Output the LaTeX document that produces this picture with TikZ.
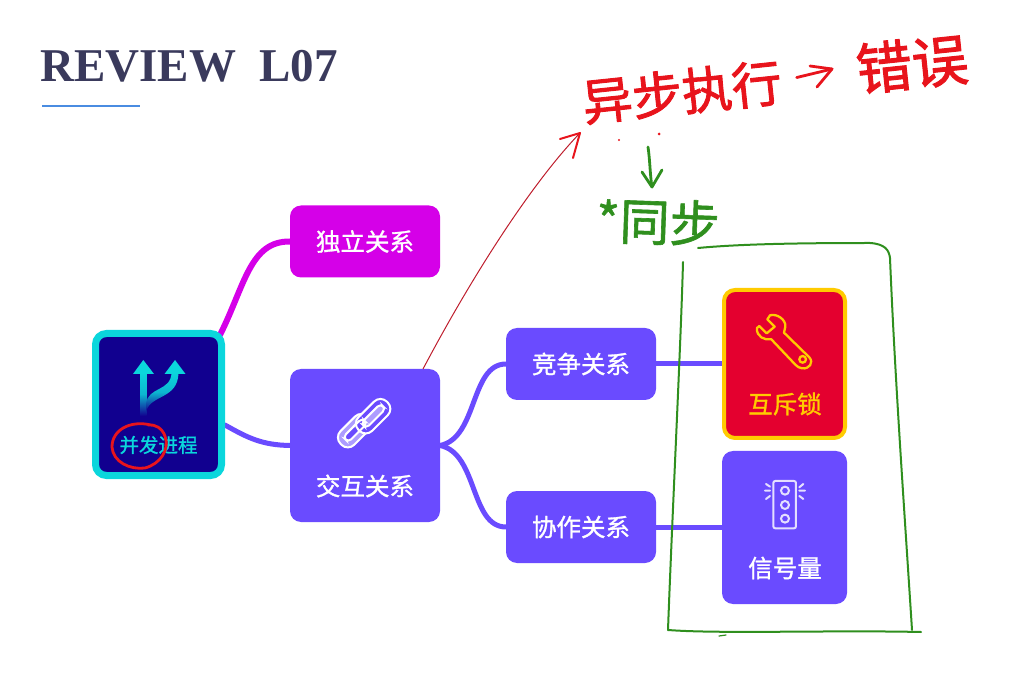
\documentclass[tikz,border=0pt]{standalone}
\usepackage{fontspec}
\setmainfont{Liberation Serif}
\newfontfamily\cjk{Noto Sans CJK SC}
\newfontfamily\cjkb[FakeBold=1.2]{Noto Sans CJK SC}
\newfontfamily\cjkh[FakeBold=1.8]{Noto Sans CJK SC}
\usetikzlibrary{backgrounds,shadings}
\definecolor{violetbox}{HTML}{6A4BFF}
\definecolor{magbox}{HTML}{D500E8}
\definecolor{navybox}{HTML}{11008F}
\definecolor{cyanb}{HTML}{0BD6DC}
\definecolor{redbox}{HTML}{E4002F}
\definecolor{goldb}{HTML}{FFCB00}
\definecolor{penred}{HTML}{E8141C}
\definecolor{pengreen}{HTML}{2F8F1E}
\definecolor{titlec}{HTML}{3A3A5C}
\definecolor{icon}{HTML}{E4DFFF}
\tikzset{
 card/.style={draw=none,fill=violetbox,rounded corners=11pt,inner sep=0pt,outer sep=0pt,text=white,font=\cjkb\fontsize{24.5}{26}\selectfont},
 small/.style={card,minimum width=150pt,minimum height=72pt},
 big/.style={card,minimum width=150pt,minimum height=153pt},
 caption/.style={inner sep=0pt,text=white,font=\cjkb\fontsize{24.5}{26}\selectfont},
 branch/.style={line width=5pt,violetbox,line cap=round},
 ink/.style={line width=2.8pt,penred,line cap=round,line join=round},
 grn/.style={line width=2pt,pengreen,line cap=round,line join=round},
 handred/.style={inner sep=0pt,text=penred,font=\cjkh\fontsize{50}{52}\selectfont},
 handgreen/.style={inner sep=0pt,text=pengreen,font=\cjkb\fontsize{50}{52}\selectfont},
}
\begin{document}
\begin{tikzpicture}[x=1pt,y=-1pt]
\useasboundingbox (0,0) rectangle (1023,684);
% title
\node[anchor=west,inner sep=0pt,text=titlec,font=\bfseries\fontsize{47}{50}\selectfont] (title) at (40,66) {REVIEW\ \ L07};
\coordinate (ul1) at (42,106); \coordinate (ul2) at (140,106);
\draw[line width=2.4pt,color={rgb,255:red,74;green,140;blue,225}] (ul1) -- (ul2);
% cards
\node[draw=cyanb,line width=7pt,fill=navybox,rounded corners=11pt,minimum width=126pt,minimum height=142pt,inner sep=0pt] (root) at (158.5,404.5) {};
\node[small,fill=magbox] (ind) at (365,241.5) {独立关系};
\node[big] (inter) at (365,445.5) {};
\node[small] (comp) at (581,364) {竞争关系};
\node[small] (coop) at (581,527) {协作关系};
\node[draw=goldb,line width=4pt,fill=redbox,rounded corners=11pt,minimum width=121pt,minimum height=148pt,inner sep=0pt] (mutex) at (784.5,364) {};
\node[card,minimum width=125pt,minimum height=153pt] (sem) at (784.5,527.5) {};
% captions
\node[caption,text=cyanb,font=\cjkb\fontsize{19.5}{21}\selectfont] (rootcap) at (158.5,445) {并发进程};
\node[caption] (intercap) at (365,486) {交互关系};
\node[caption,text=goldb,font=\cjkb\fontsize{24.5}{26}\selectfont] (mutexcap) at (785,404) {互斥锁};
\node[caption] (semcap) at (785,568) {信号量};
% connectors
\begin{scope}[on background layer]
\draw[branch,magbox,line width=6pt] ([shift={(-5,5)}]root.north east) .. controls (245,285) and (250,241) .. (ind.west);
\draw[branch] (root.east |- 0,425) .. controls (248,438) and (262,445) .. (inter.west);
\draw[branch] (inter.east) .. controls (478,438) and (470,364) .. (comp.west);
\draw[branch] (inter.east) .. controls (478,453) and (470,527) .. (coop.west);
\draw[branch] (comp.east) -- (mutex.west |- comp.east);
\draw[branch] (coop.east) -- (sem.west |- coop.east);
\end{scope}
% root icon
\shade[top color=cyanb,bottom color=navybox,middle color=cyanb!85!navybox] (140,372) rectangle (146.5,416);
\shade[top color=cyanb,bottom color=navybox,middle color=cyanb!85!navybox]
 (171.5,372) .. controls (171.5,392) and (148,386) .. (146,404) -- (146,412) .. controls (150,394) and (178.5,400) .. (178.5,372) -- cycle;
\fill[cyanb] (143.3,360) -- (154,374) -- (133,374) -- cycle;
\fill[cyanb] (175,360) -- (185.5,374) -- (164.5,374) -- cycle;
% red circle
\draw[ink] (151,425) .. controls (130,420) and (112,430) .. (112,447)
  .. controls (113,462) and (130,470) .. (145,468)
  .. controls (160,464) and (170,450) .. (165,436)
  .. controls (162,428) and (155,424) .. (148,425);
% chain icon
\begin{scope}[shift={(280,360)},x=.3333pt,y=-.3333pt]
\begin{scope}[shift={(224,212)},rotate=45]
\draw[white,line width=2pt,fill=white!45!violetbox,rounded corners=9pt] (-58,-29) rectangle (58,29);
\draw[white,line width=2pt,fill=violetbox,rounded corners=4pt] (-38,-11) rectangle (42,11);
\end{scope}
\begin{scope}[shift={(278,170)},rotate=45]
\draw[white,line width=2pt,fill=violetbox,rounded corners=9pt] (-58,-29) rectangle (62,29);
\draw[white,line width=2pt,fill=white!45!violetbox,rounded corners=4pt] (-38,-11) rectangle (44,11);
\end{scope}
\begin{scope}[shift={(224,212)},rotate=45]
\draw[white,line width=2pt,rounded corners=4pt] (5,-11) -- (42,-11) -- (42,11) -- (5,11);
\end{scope}
\end{scope}
% wrench icon
\begin{scope}[shift={(710,280)},x=.3333pt,y=-.3333pt]
\draw[goldb,line width=2.3pt,line join=round]
 (172,118) -- (180,106) .. controls (200,100) and (228,118) .. (226,140)
 .. controls (226,148) and (224,152) .. (222,158)
 -- (298,232) .. controls (312,248) and (298,268) .. (276,265)
 .. controls (268,264) and (262,260) .. (256,254)
 -- (184,178) .. controls (165,182) and (138,170) .. (141,144)
 -- (148,138) -- (170,160) -- (194,140) -- cycle;
\draw[goldb,line width=2.3pt] (278,238) circle (10);
\end{scope}
% traffic light
\begin{scope}[shift={(710,280)},x=.3333pt,y=-.3333pt]
\draw[icon,line width=2pt,rounded corners=2pt] (190,603) rectangle (258,745);
\foreach \yy in {632,675,716}{\draw[icon,line width=2pt] (225,\yy) circle (12);}
\draw[icon,line width=2pt,line cap=round]
 (165,632)--(180,632) (168,612)--(180,620) (168,657)--(180,648)
 (285,632)--(268,632) (280,612)--(268,622) (280,657)--(268,648);
\end{scope}
% red thin arrow
\coordinate (thin) at (423,369);
\coordinate (thintip) at (580,133);
\draw[line width=1pt,color={rgb,255:red,190;green,30;blue,45}] (thin) .. controls (470,280) and (530,185) .. (thintip);
\draw[ink,line width=2pt] (560,139) -- (thintip) -- (573,158);
% handwritten red
\node[handred,rotate=6] (async) at (682,92) {异步执行};
\node[handred,rotate=6,font=\cjkh\fontsize{56}{58}\selectfont] (err) at (912,64) {错误};
\draw[ink] ([xshift=15pt,yshift=4pt]async.east) -- (832,69);
\draw[ink] (810,66) -- (832,69) -- (817,87);
\fill[penred] (619,140) circle (1.2) (659,134) circle (1.5);
% handwritten green
\coordinate (ga) at (648,147);
\coordinate (gb) at (652,187);
\draw[grn,line width=2.8pt] (ga) .. controls (650,160) and (650,175) .. (gb);
\draw[grn,line width=2.8pt] (642,172) -- (gb) -- (662,170);
\node[handgreen,rotate=-2] (sync) at (658,222) {*同步};
% green box
\draw[grn] (698,248) .. controls (740,244) and (800,243) .. (870,243) .. controls (885,244) and (889,250) .. (890,258)
 .. controls (895,380) and (905,520) .. (912,630);
\draw[grn] (683,262) .. controls (681,340) and (672,520) .. (668,630);
\draw[grn] (668,630) .. controls (720,634) and (830,630) .. (921,632);
\draw[grn,line width=1.2pt] (719,636) -- (726,635);
\end{tikzpicture}
\end{document}
